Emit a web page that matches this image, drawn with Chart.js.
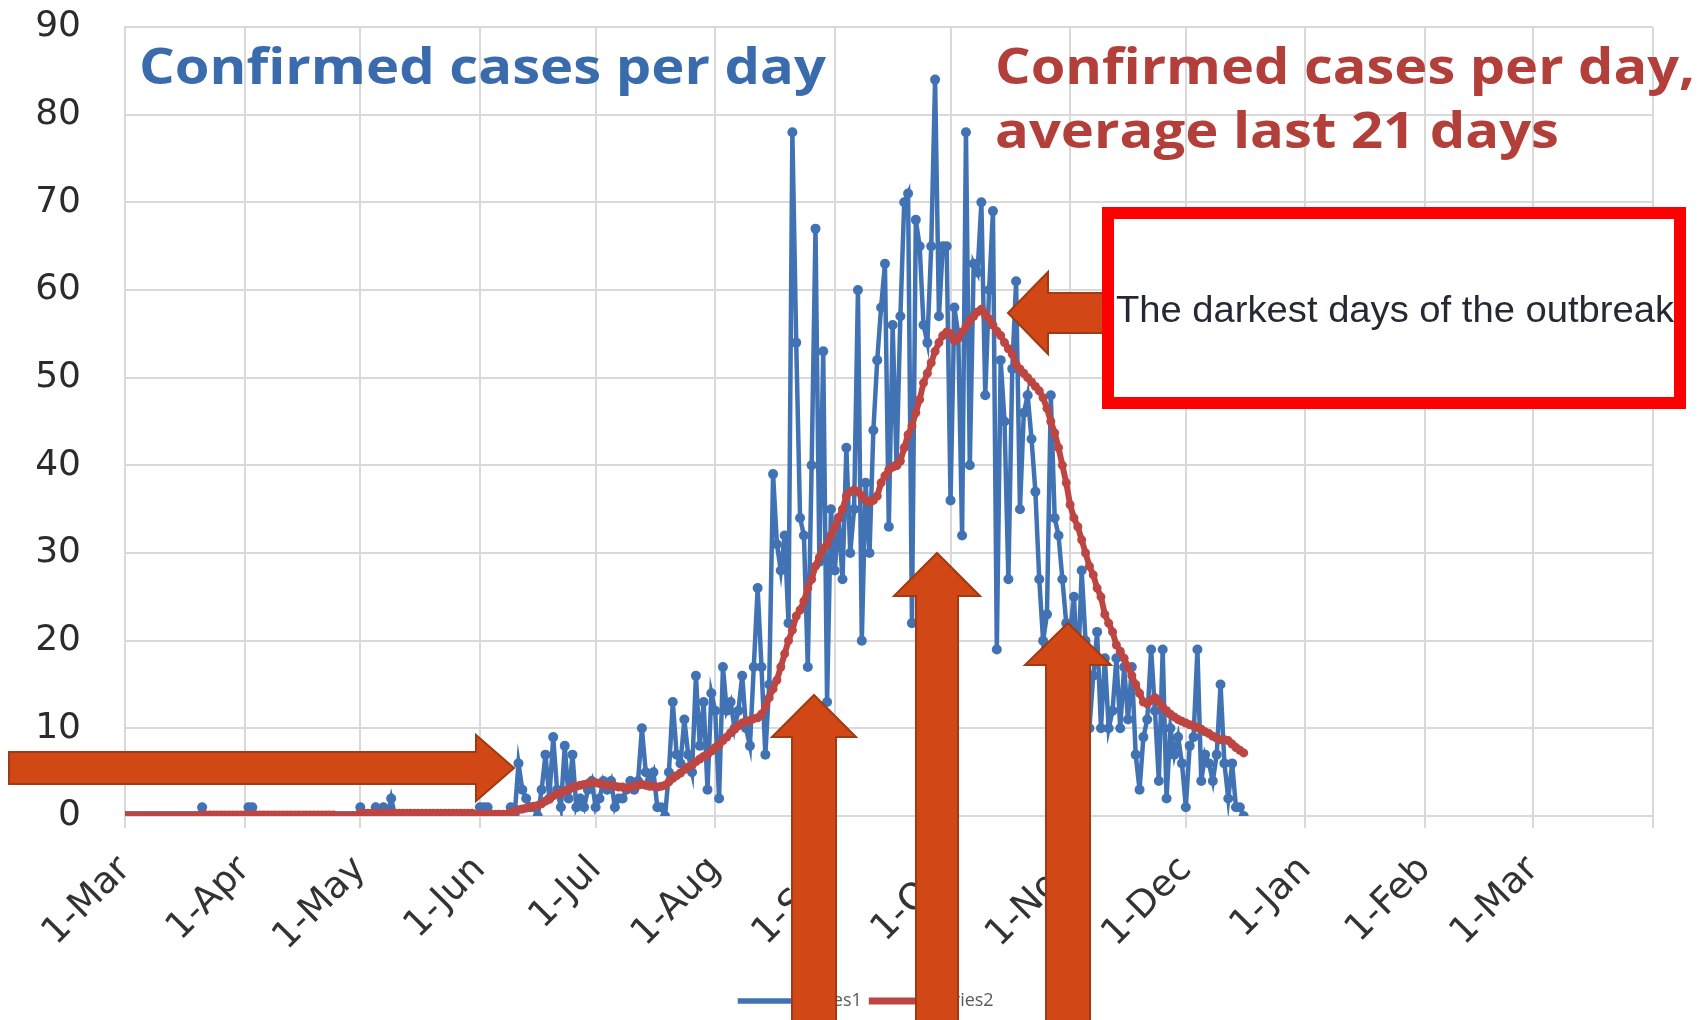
<!DOCTYPE html>
<html>
<head>
<meta charset="utf-8">
<title>Confirmed cases per day</title>
<script src="https://cdn.jsdelivr.net/npm/chart.js@4.4.1/dist/chart.umd.min.js"></script>
<style>
  html, body { margin: 0; padding: 0; background: #ffffff; }
  #wrap { width: 1704px; height: 1020px; }
</style>
</head>
<body>
<div id="wrap"><canvas id="casesChart" width="1704" height="1020"></canvas></div>
<script>
// Daily confirmed cases, one value per day starting 1-Mar (day 0)
const dailyCases = [
  0,0,0,0,0,0,0,0,0,0, 0,0,0,0,0,0,0,0,0,0,
  1,0,0,0,0,0,0,0,0,0, 0,0,1,1,0,0,0,0,0,0,
  0,0,0,0,0,0,0,0,0,0, 0,0,0,0,0,0,0,0,0,0,
  0,1,0,0,0,1,0,1,0,2, 0,0,0,0,0,0,0,0,0,0,
  0,0,0,0,0,0,0,0,0,0, 0,0,1,1,1,0,0,0,0,0,
  1,0,6,3,2,1,1,0,3,7,
  2,9,3,1,8,2,7,1,2,1,
  3,4,1,2,4,3,4,1,2,2,
  3,4,3,4,10,5,4,5,1,1,
  0,5,13,7,6,11,7,5,16,8,
  13,3,14,12,2,17,12,13,10,12,
  16,10,8,17,26,17,7,15,39,31,
  28,32,22,78,54,34,32,17,40,67,
  29,53,13,35,28,34,27,42,30,35,
  60,20,38,30,44,52,58,63,33,56,
  40,57,70,71,22,68,65,56,54,65,
  84,57,65,65,36,58,55,32,78,40,
  63,62,70,48,60,69,19,52,45,27,
  51,61,35,46,48,43,37,27,20,23,
  48,34,32,27,22,21,25,16,28,20,
  10,16,21,10,18,10,12,18,10,17,
  11,17,7,3,9,11,19,12,4,19,
  2,10,7,9,6,1,8,9,19,4,
  7,6,4,7,15,6,2,6,1,1,0
];

// Average of the last 21 days
const avg21Days = [
  0,0,0,0,0,0,0,0,0,0, 0,0,0,0,0,0,0,0,0,0,
  0.1,0.1,0.1,0.1,0.1,0.1,0.1,0.1,0.1,0.1, 0.1,0.1,0.1,0.1,0.1,0.1,0.1,0.1,0.1,0.1,
  0.1,0.1,0.1,0.1,0.1,0.1,0.1,0.1,0.1,0.1, 0.1,0.1,0.1,0.1,0.1,0,0,0,0,0,
  0,0.3,0.3,0.3,0.3,0.3,0.3,0.3,0.3,0.3, 0.3,0.3,0.3,0.3,0.3,0.3,0.3,0.3,0.3,0.3,
  0.3,0.3,0.3,0.3,0.3,0.3,0.3,0.3,0.3,0.3, 0.3,0.2,0.2,0.2,0.2,0.2,0.2,0.2,0.2,0.2,
  0.4,0.5,0.7,0.8,0.9,1.0,1.1,1.2,1.4,1.7,
  1.9,2.3,2.5,2.6,2.9,3.0,3.3,3.4,3.5,3.6,
  3.7,3.8,3.8,3.7,3.6,3.5,3.5,3.4,3.3,3.3,
  3.2,3.3,3.4,3.5,3.6,3.5,3.4,3.4,3.3,3.4,
  3.5,3.9,4.3,4.6,4.9,5.3,5.6,5.8,6.2,6.5,
  6.8,7.0,7.4,7.8,8.1,8.6,9.0,9.5,9.9,10.3,
  10.6,10.8,10.9,11.1,11.2,11.6,12.5,13.5,14.5,15.5,
  17,18.5,20,21.2,22.8,23.5,24.5,26,27,28.5,
  29.5,30.5,31,32,33,34,35,36.5,37,37.2,
  37,36.5,36,35.8,36,36.5,38,38.8,39.5,39.8,
  40,40.5,42,43.5,44.5,46,47.5,49.4,50.5,51.7,
  53,54,54.8,55.2,55,54.2,54.5,55.2,55.8,56.5,
  57,57.5,57.8,57.2,56.7,56,55.3,54.8,54,53.3,
  52.7,51.5,51,50.5,50,49.5,49,48.5,47.7,46.5,
  45,43.7,42,40,38,35.5,34,33,31.5,30,
  28.5,27.5,26,25,23,22,21,19.5,18.8,18,
  17,16,15,14,13,12.8,13.2,13.5,13,12.4,
  12,11.6,11.3,11,10.8,10.6,10.4,10.3,10.1,9.9,
  9.6,9.4,9.1,8.9,8.7,8.7,8.6,8.2,7.8,7.5,7.2
];

// x axis: days since 1-Mar, ticks at the first of each month
const monthStartDays = [0, 31, 61, 92, 122, 153, 184, 214, 245, 275, 306, 337, 365, 396];
const monthLabels = ['1-Mar', '1-Apr', '1-May', '1-Jun', '1-Jul', '1-Aug', '1-Sep',
                     '1-Oct', '1-Nov', '1-Dec', '1-Jan', '1-Feb', '1-Mar', ''];
const yTicks = [0, 10, 20, 30, 40, 50, 60, 70, 80, 90];

const BLUE = '#4172b4';
const RED = '#bd4642';
const ARROW_FILL = '#d14816';
const ARROW_EDGE = '#a13a12';

// draw text squeezed/stretched to a given width
function fitText(ctx, text, x, y, width) {
    const w = ctx.measureText(text).width;
    ctx.save();
    ctx.translate(x, y);
    ctx.scale(width / w, 1);
    ctx.fillText(text, 0, 0);
    ctx.restore();
}

// block arrow; dir = 'up' | 'left' | 'right'
function blockArrow(ctx, dir, tipX, tipY, headLen, headHalf, shaftHalf, tailEnd) {
    ctx.beginPath();
    if (dir === 'up') {
        const b = tipY + headLen;
        ctx.moveTo(tipX, tipY);
        ctx.lineTo(tipX + headHalf, b);
        ctx.lineTo(tipX + shaftHalf, b);
        ctx.lineTo(tipX + shaftHalf, tailEnd);
        ctx.lineTo(tipX - shaftHalf, tailEnd);
        ctx.lineTo(tipX - shaftHalf, b);
        ctx.lineTo(tipX - headHalf, b);
    } else {
        const s = dir === 'left' ? 1 : -1;
        const b = tipX + s * headLen;
        ctx.moveTo(tipX, tipY);
        ctx.lineTo(b, tipY - headHalf);
        ctx.lineTo(b, tipY - shaftHalf);
        ctx.lineTo(tailEnd, tipY - shaftHalf);
        ctx.lineTo(tailEnd, tipY + shaftHalf);
        ctx.lineTo(b, tipY + shaftHalf);
        ctx.lineTo(b, tipY + headHalf);
    }
    ctx.closePath();
    ctx.fillStyle = ARROW_FILL;
    ctx.fill();
    ctx.lineWidth = 2;
    ctx.strokeStyle = ARROW_EDGE;
    ctx.stroke();
}

const annotations = {
    id: 'annotations',
    afterLayout(chart) {
        // legend sits a little left of the plot centre in the original
        if (chart.legend) {
            chart.legend.left -= 22;
            chart.legend.right -= 22;
        }
    },
    afterDraw(chart) {
        const ctx = chart.ctx;
        ctx.save();
        ctx.textBaseline = 'alphabetic';
        ctx.textAlign = 'left';

        // titles
        ctx.font = 'bold 50px "Open Sans"';
        ctx.fillStyle = '#3a6cad';
        fitText(ctx, 'Confirmed cases per day', 139, 84, 687);
        ctx.fillStyle = '#b33f3b';
        fitText(ctx, 'Confirmed cases per day,', 995, 84, 700);
        fitText(ctx, 'average last 21 days', 995, 148, 564);

        // arrow pointing at the peak of the average
        blockArrow(ctx, 'left', 1008, 313, 40, 41, 20, 1112);

        // callout box
        ctx.fillStyle = '#ffffff';
        ctx.fillRect(1108, 213, 572, 190);
        ctx.lineWidth = 12;
        ctx.strokeStyle = '#ff0000';
        ctx.strokeRect(1108, 213, 572, 190);
        ctx.font = '36px "Liberation Sans"';
        ctx.fillStyle = '#262933';
        fitText(ctx, 'The darkest days of the outbreak', 1116, 322, 558);

        // other arrows
        blockArrow(ctx, 'right', 514, 768, 38, 33, 16, 9);
        blockArrow(ctx, 'up', 814, 695, 42, 42, 22, 1030);
        blockArrow(ctx, 'up', 937, 553, 43, 43, 21, 1030);
        blockArrow(ctx, 'up', 1068, 623, 42, 43, 22, 1030);
        ctx.restore();
    }
};

const ctx = document.getElementById('casesChart').getContext('2d');
const casesChart = new Chart(ctx, {
    type: 'line',
    data: {
        datasets: [{
            label: 'Series1',
            data: dailyCases.map((v, i) => ({ x: i, y: v })),
            borderColor: BLUE,
            backgroundColor: BLUE,
            borderWidth: 4.5,
            pointRadius: 5,
            pointBorderWidth: 0,
            pointBackgroundColor: BLUE,
            tension: 0,
            order: 1
        }, {
            label: 'Series2',
            data: avg21Days.map((v, i) => ({ x: i, y: v })),
            borderColor: RED,
            backgroundColor: RED,
            borderWidth: 6,
            pointRadius: 4.5,
            pointBorderWidth: 0,
            pointBackgroundColor: RED,
            tension: 0,
            order: 0
        }]
    },
    options: {
        responsive: false,
        animation: false,
        devicePixelRatio: 1,
        layout: { padding: { top: 27, right: 41, left: 0, bottom: 0 } },
        plugins: {
            legend: {
                position: 'bottom',
                fullSize: false,
                labels: {
                    boxWidth: 52,
                    boxHeight: 1,
                    padding: 10,
                    color: '#595959',
                    font: { family: '"Open Sans"', size: 18 },
                    sort: (a, b) => a.datasetIndex - b.datasetIndex
                }
            },
            tooltip: { enabled: false }
        },
        scales: {
            x: {
                type: 'linear',
                min: monthStartDays[0],
                max: monthStartDays[monthStartDays.length - 1],
                afterBuildTicks: (axis) => { axis.ticks = monthStartDays.map(v => ({ value: v })); },
                afterFit: (axis) => { axis.height = 166; },
                grid: { color: '#d9d9d9', lineWidth: 2, tickLength: 12, drawTicks: true },
                border: { color: '#d9d9d9', width: 2 },
                ticks: {
                    autoSkip: false,
                    minRotation: 45,
                    maxRotation: 45,
                    padding: 20,
                    color: '#333333',
                    font: { family: '"DejaVu Sans"', size: 37 },
                    callback: (value, index) => monthLabels[index]
                }
            },
            y: {
                min: yTicks[0],
                max: yTicks[yTicks.length - 1],
                afterBuildTicks: (axis) => { axis.ticks = yTicks.map(v => ({ value: v })); },
                afterFit: (axis) => { axis.width = 125; },
                // invisible tick marks push the labels left without adding top padding
                grid: { color: '#d9d9d9', lineWidth: 2, drawTicks: true, tickLength: 40, tickColor: 'rgba(0,0,0,0)' },
                border: { color: '#d9d9d9', width: 2 },
                ticks: {
                    padding: 4,
                    color: '#2b2b2b',
                    font: { family: '"DejaVu Sans"', size: 36 }
                }
            }
        }
    },
    plugins: [annotations]
});
</script>
</body>
</html>
